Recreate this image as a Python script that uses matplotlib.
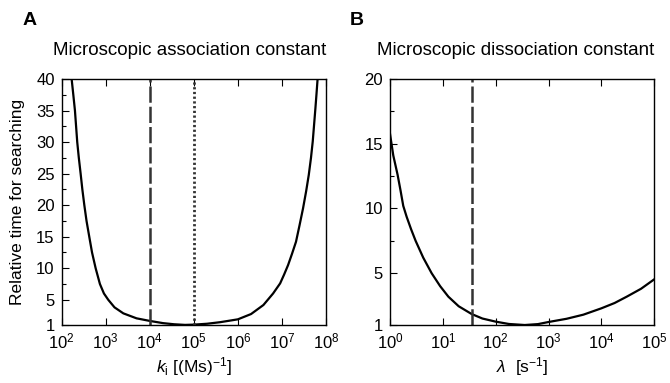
import matplotlib
matplotlib.use("Agg")
import matplotlib.pyplot as plt
from matplotlib.ticker import FixedLocator, LogLocator, NullLocator
import numpy as np

plt.rcParams['font.family'] = ['Liberation Sans', 'DejaVu Sans']
plt.rcParams['mathtext.fontset'] = 'custom'
plt.rcParams['mathtext.rm'] = 'Liberation Sans'
plt.rcParams['mathtext.it'] = 'Liberation Sans:italic'
plt.rcParams['mathtext.default'] = 'regular'

# panel A: log10(k_i) and relative search time
logk_a = [2.227, 2.265, 2.302, 2.328, 2.354, 2.39, 2.431, 2.47, 2.515, 2.565,
          2.627, 2.69, 2.772, 2.869, 2.96, 3.058, 3.20, 3.40, 3.70, 4.00,
          4.30, 4.55, 4.80, 5.00, 5.30, 5.60, 6.00, 6.30, 6.58, 6.80,
          6.96, 7.05, 7.14, 7.23, 7.32, 7.40, 7.48, 7.55, 7.61, 7.66,
          7.70, 7.73, 7.76, 7.785, 7.81]
time_a = [40.0, 37.5, 35.0, 32.5, 30.0, 27.5, 25.0, 22.5, 20.0, 17.5,
          15.0, 12.5, 10.0, 7.5, 6.0, 5.0, 3.8, 2.85, 2.06, 1.65,
          1.30, 1.12, 1.02, 1.06, 1.20, 1.45, 1.90, 2.74, 4.17, 6.0,
          7.6, 9.0, 10.5, 12.3, 14.2, 16.8, 19.5, 22.2, 24.8, 27.5,
          30.1, 32.7, 35.3, 37.6, 40.0]
vlines_a = [1e4, 1e5]

# panel B: log10(lambda) and relative search time
logl_b = [0.0, 0.063, 0.145, 0.20, 0.252, 0.316, 0.40, 0.486, 0.63, 0.789,
          0.95, 1.105, 1.30, 1.545, 1.75, 2.00, 2.25, 2.55, 2.80, 3.01,
          3.34, 3.66, 4.00, 4.25, 4.48, 4.75, 5.00]
time_b = [15.8, 14.1, 12.6, 11.4, 10.2, 9.36, 8.4, 7.5, 6.2, 5.0,
          4.0, 3.19, 2.45, 1.85, 1.5, 1.26, 1.08, 1.0, 1.07, 1.24,
          1.48, 1.8, 2.29, 2.7, 3.19, 3.8, 4.53]
vline_b = 35.0

fig = plt.figure(figsize=(6.7, 3.83), dpi=100)
axA = fig.add_axes([0.092, 0.1514, 0.3945, 0.6423])
axB = fig.add_axes([0.582, 0.1514, 0.3945, 0.6423])


def style(ax, ymax, yticks, yminor):
    ax.set_xscale('log')
    ax.set_ylim(1, ymax)
    ax.yaxis.set_major_locator(FixedLocator(yticks))
    ax.yaxis.set_minor_locator(FixedLocator(yminor))
    ax.xaxis.set_major_locator(LogLocator(base=10, numticks=20))
    ax.xaxis.set_minor_locator(NullLocator())
    ax.tick_params(axis='both', which='both', direction='in', top=True,
                   right=False, labelsize=12, width=0.8)
    ax.tick_params(which='major', length=5)
    ax.tick_params(which='minor', length=3)
    ax.tick_params(axis='x', pad=5)
    ax.tick_params(axis='y', pad=5)
    for s in ax.spines.values():
        s.set_linewidth(1.0)


dash = (0, (6.5, 1.6))
dot = (0, (0.8, 0.9))

axA.plot(10 ** np.array(logk_a), time_a, color='black', lw=1.6)
axA.axvline(vlines_a[0], color='#333333', lw=1.8, ls=dash)
axA.axvline(vlines_a[1], color='#333333', lw=2.0, ls=dot)
axA.set_xlim(1e2, 1e8)
style(axA, 40, [1, 5, 10, 15, 20, 25, 30, 35, 40],
      [7.5, 12.5, 17.5, 22.5, 27.5, 32.5, 37.5])
axA.set_xlabel(r'$\mathit{k}_{\rm i}$ [(Ms)$^{-1}$]', fontsize=12.5, labelpad=2)
axA.set_ylabel('Relative time for searching', fontsize=12.5)
axA.yaxis.set_label_coords(-0.139, 0.5)
axA.set_title('Microscopic association constant', fontsize=13.5, pad=17,
              loc='right')

axB.plot(10 ** np.array(logl_b), time_b, color='black', lw=1.6)
axB.axvline(vline_b, color='#333333', lw=1.8, ls=dash)
axB.set_xlim(1e0, 1e5)
style(axB, 20, [1, 5, 10, 15, 20], [7.5, 12.5, 17.5])
axB.set_xlabel(r'$\mathit{\lambda}$  [s$^{-1}$]', fontsize=12.5, labelpad=2)
axB.set_title('Microscopic dissociation constant', fontsize=13.5, pad=17,
              loc='right')

fig.text(0.034, 0.935, 'A', fontsize=14, fontweight='bold')
fig.text(0.522, 0.935, 'B', fontsize=14, fontweight='bold')

fig.savefig('out.png', dpi=100)
